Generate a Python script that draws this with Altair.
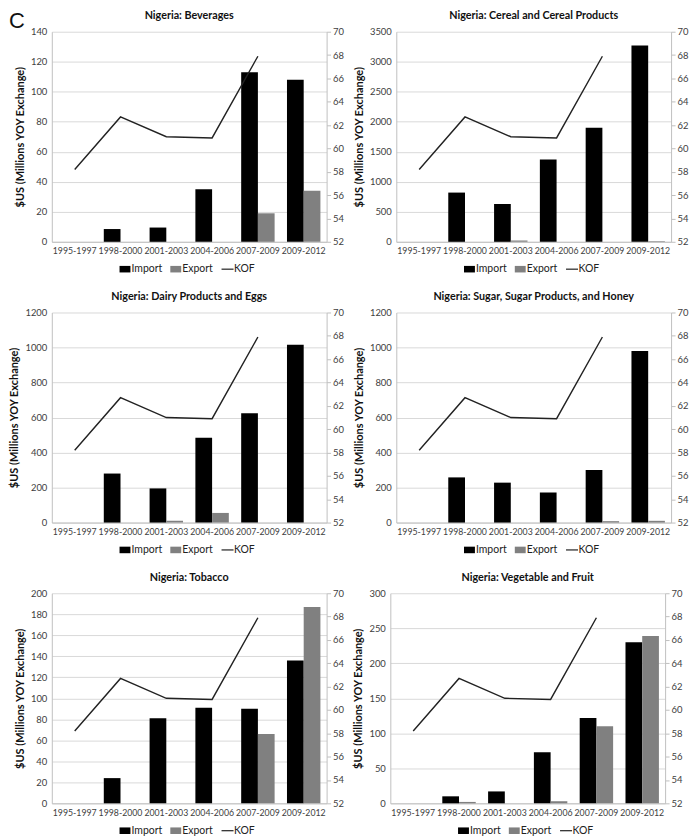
import altair as alt
import pandas as pd

periods = ["1995-1997", "1998-2000", "2001-2003", "2004-2006", "2007-2009", "2009-2012"]
kof_periods = ["1995-1997", "1998-2000", "2001-2003", "2004-2006", "2007-2009"]
kof_values = [58.2, 62.7, 61.0, 60.9, 67.9]

products = ["Beverages", "Cereal and Cereal Products", "Dairy Products and Eggs",
            "Sugar, Sugar Products, and Honey", "Tobacco", "Vegetable and Fruit"]

import_beverages = [0, 8.5, 9.5, 35, 113, 108]
export_beverages = [0, 0, 0, 0, 19, 34]
import_cereal = [0, 820, 630, 1370, 1900, 3270]
export_cereal = [0, 0, 20, 0, 0, 10]
import_dairy = [0, 280, 195, 485, 625, 1015]
export_dairy = [0, 0, 10, 55, 0, 0]
import_sugar = [0, 258, 228, 172, 300, 980]
export_sugar = [0, 0, 0, 0, 8, 10]
import_tobacco = [0, 24, 81, 91, 90, 136]
export_tobacco = [0, 0, 0, 0, 66, 187]
import_veg = [0, 10, 17, 73, 122, 230]
export_veg = [0, 2, 0, 3, 110, 239]

imports = [import_beverages, import_cereal, import_dairy, import_sugar, import_tobacco, import_veg]
exports = [export_beverages, export_cereal, export_dairy, export_sugar, export_tobacco, export_veg]
y_max = [140, 3500, 1200, 1200, 200, 300]
y_step = [20, 500, 200, 200, 20, 50]
kof_ticks = [52, 54, 56, 58, 60, 62, 64, 66, 68, 70]
series = ["Import", "Export", "KOF"]

FONT = "Lato"
GRID = "#d9d9d9"
AXC = "#bfbfbf"
LAB = "#404040"

kof_df = pd.DataFrame({"Period": kof_periods, "KOF": kof_values})
legend_df = pd.DataFrame({"Series": series})

W, H = 276, 211


def panel(i):
    rows = []
    for p, a, b in zip(periods, imports[i], exports[i]):
        rows.append({"Period": p, "Series": "Import", "Value": a})
        rows.append({"Period": p, "Series": "Export", "Value": b})
    df = pd.DataFrame(rows)
    xenc = alt.X("Period:N", sort=periods,
                 scale=alt.Scale(paddingInner=0.27, paddingOuter=0.135),
                 axis=alt.Axis(title=None, labelAngle=0, ticks=False, domainColor=AXC,
                               labelFontSize=8.8, labelColor=LAB, labelPadding=5,
                               labelFont=FONT, labelOverlap=False))
    bars = alt.Chart(df).mark_bar().encode(
        x=xenc,
        xOffset=alt.XOffset("Series:N", sort=["Import", "Export"],
                            scale=alt.Scale(paddingInner=0, paddingOuter=0)),
        y=alt.Y("Value:Q", scale=alt.Scale(domain=[0, y_max[i]], nice=False),
                axis=alt.Axis(values=list(range(0, y_max[i] + 1, y_step[i])), format="d",
                              title="$US (Millions YOY Exchange)", titleFont=FONT,
                              titleFontSize=11, titleFontWeight="bold", titleColor="#111111",
                              titlePadding=5,
                              grid=True, gridColor=GRID, ticks=False, domainColor=AXC,
                              labelFont=FONT, labelFontSize=9.5, labelColor=LAB, labelPadding=5)),
        color=alt.Color("Series:N",
                        scale=alt.Scale(domain=["Import", "Export"], range=["#000000", "#808080"]),
                        legend=None),
    )
    line = alt.Chart(kof_df).mark_line(strokeWidth=1.4, color="#222222").encode(
        x=alt.X("Period:N", sort=periods),
        y=alt.Y("KOF:Q", scale=alt.Scale(domain=[52, 70], nice=False),
                axis=alt.Axis(orient="right", values=kof_ticks, title=None, grid=False,
                              tickSize=4, tickColor=AXC, domainColor=AXC,
                              labelFont=FONT, labelFontSize=9.5, labelColor=LAB, labelPadding=2)),
    )
    leg = alt.Legend(orient="none", legendX=68, legendY=H + 22, direction="horizontal",
                     title=None, labelFont=FONT, labelFontSize=10.5, labelColor="#222222",
                     symbolSize=120, labelOffset=1, columnPadding=8,
                     symbolStrokeWidth=0)
    keys = alt.Chart(legend_df).mark_point(filled=True, size=120, opacity=1).encode(
        color=alt.Color("Series:N", scale=alt.Scale(domain=series,
                                                   range=["#000000", "#808080", "#222222"]),
                        legend=leg),
        shape=alt.Shape("Series:N", scale=alt.Scale(domain=series,
                                                   range=["M-1,-0.6H1V0.6H-1Z",
                                                          "M-1,-0.6H1V0.6H-1Z",
                                                          "M-1.1,-0.11H1.1V0.11H-1.1Z"]),
                        legend=leg),
    ).transform_filter("false")
    ch = alt.layer(bars, line, keys).resolve_scale(
        y="independent", color="independent", shape="independent"
    ).resolve_legend(color="independent", shape="independent").properties(
        width=W, height=H,
        title=alt.TitleParams(f"Nigeria: {products[i]}", font=FONT, fontSize=10.8,
                              fontWeight="bold", color="#111111", offset=6, anchor="middle"))
    return ch


rows = []
for r in range(3):
    rows.append(alt.hconcat(panel(2 * r), panel(2 * r + 1), spacing=8))

chart = alt.vconcat(*rows, spacing=16).properties(
    padding=0,
    title=alt.TitleParams("C", font="Liberation Sans", fontSize=22, fontWeight="normal",
                          color="#111111", anchor="start", offset=-23),
).configure_view(stroke=None)

chart.save("out.html", embed_options={"renderer": "svg", "actions": False})
